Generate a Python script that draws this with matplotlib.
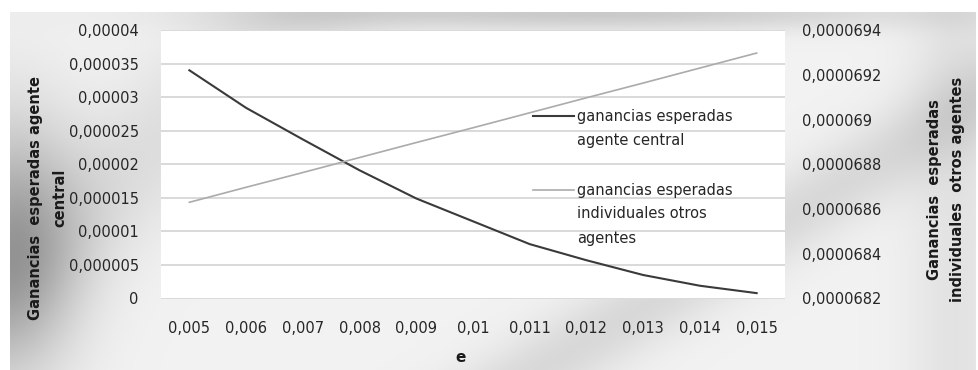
import numpy as np
import matplotlib
matplotlib.use("Agg")
import matplotlib.pyplot as plt
from matplotlib.lines import Line2D
from matplotlib.ticker import FixedLocator, FuncFormatter

plt.rcParams['font.family'] = ['DejaVu Sans']

# Data
e_values = [0.005, 0.006, 0.007, 0.008, 0.009, 0.010, 0.011, 0.012, 0.013, 0.014, 0.015]
e_labels = ["0,005", "0,006", "0,007", "0,008", "0,009", "0,01", "0,011", "0,012", "0,013", "0,014", "0,015"]
central_profit = [3.40e-5, 2.84e-5, 2.37e-5, 1.91e-5, 1.49e-5, 1.15e-5,
                  0.81e-5, 0.57e-5, 0.35e-5, 0.19e-5, 0.08e-5]
others_profit = [6.8630e-5, 6.8697e-5, 6.8763e-5, 6.8830e-5, 6.8897e-5, 6.8963e-5,
                 6.9030e-5, 6.9097e-5, 6.9163e-5, 6.9230e-5, 6.9297e-5]
left_ticks = [0, 0.000005, 0.00001, 0.000015, 0.00002, 0.000025, 0.00003, 0.000035, 0.00004]
right_ticks = [0.0000682, 0.0000684, 0.0000686, 0.0000688, 0.000069, 0.0000692, 0.0000694]

TXT = "#262626"
W, H = 979, 370
fig = plt.figure(figsize=(W / 100, H / 100), dpi=100)
fig.patch.set_facecolor("white")

# Silver gradient chart area
bg = fig.add_axes([10 / W, 0, 966 / W, 358 / H], zorder=0)
bg.set_axis_off()
ny, nx = 200, 500
yy, xx = np.mgrid[0:1:ny * 1j, 0:1:nx * 1j]
shade = 0.95 * np.ones_like(xx)
shade -= 0.30 * np.exp(-((xx - 0.0) / 0.07) ** 2) * np.exp(-((yy - 0.65) / 0.35) ** 2)
shade -= 0.16 * np.exp(-((yy - 0.0) / 0.05) ** 2) * np.exp(-((xx - 0.6) / 0.35) ** 2)
shade -= 0.10 * np.exp(-((xx + yy * 0.6 - 1.15) / 0.08) ** 2)
shade -= 0.08 * np.exp(-((xx - 0.30 + yy * 0.4) / 0.10) ** 2)
shade -= 0.06 * np.exp(-((xx - 0.98) / 0.05) ** 2)
shade = np.clip(shade, 0, 1)
bg.imshow(np.dstack([shade] * 3), extent=[0, 1, 0, 1], aspect="auto", origin="upper")
bg.set_xlim(0, 1)
bg.set_ylim(0, 1)

# Plot area
left, right = 161 / W, 785 / W
bottom, top = (H - 298.5) / H, (H - 30) / H
ax = fig.add_axes([left, bottom, right - left, top - bottom], zorder=2)
ax.set_facecolor("white")
x = np.arange(len(e_values))
ax.set_xlim(-0.5, len(e_values) - 0.5)
ax.set_ylim(left_ticks[0], left_ticks[-1])
ax.yaxis.set_major_locator(FixedLocator(left_ticks))
ax.yaxis.set_major_formatter(FuncFormatter(
    lambda v, p: "0" if v == 0 else f"{v:.6f}".rstrip("0").replace(".", ",")))
ax.set_xticks(x)
ax.set_xticklabels(e_labels)
for s in ax.spines.values():
    s.set_visible(False)
ax.grid(axis="y", color="#d9d9d9", linewidth=1.4)
ax.set_axisbelow(True)
ax.tick_params(axis="both", length=0, labelsize=10.5, labelcolor=TXT)
ax.tick_params(axis="y", pad=16)
ax.tick_params(axis="x", pad=16)

ax2 = ax.twinx()
ax2.set_ylim(right_ticks[0], right_ticks[-1])
ax2.yaxis.set_major_locator(FixedLocator(right_ticks))
ax2.yaxis.set_major_formatter(FuncFormatter(lambda v, p: f"{v:.7f}".rstrip("0").replace(".", ",")))
for s in ax2.spines.values():
    s.set_visible(False)
ax2.tick_params(axis="y", length=0, labelsize=10.5, labelcolor=TXT, pad=12)

ax.plot(x, central_profit, color="#3a3a3a", linewidth=1.5, zorder=3)
ax2.plot(x, others_profit, color="#ababab", linewidth=1.2, zorder=3)

# Axis titles
tkw = dict(rotation=90, ha="center", va="center", fontsize=10.5,
           fontweight="bold", color="#1a1a1a")
fig.text(36 / W, 1 - 198 / H, "Ganancias  esperadas agente", **tkw)
fig.text(60 / W, 1 - 198 / H, "central", **tkw)
fig.text(935 / W, 1 - 190 / H, "Ganancias  esperadas", **tkw)
fig.text(958 / W, 1 - 189 / H, "individuales  otros agentes", **tkw)
fig.text(461 / W, 1 - 357 / H, "e", ha="center", va="center",
         fontsize=11, fontweight="bold", color="#1a1a1a")

# Legend drawn with the handle beside the first text line
def legend_entry(y_px, color, lw, lines):
    fig.add_artist(Line2D([533 / W, 574 / W], [1 - y_px / H, 1 - y_px / H],
                          color=color, linewidth=lw, zorder=5))
    for i, t in enumerate(lines):
        fig.text(577 / W, 1 - (y_px + i * 24) / H, t, ha="left", va="center",
                 fontsize=10.5, color=TXT, zorder=5)

legend_entry(116, "#3a3a3a", 1.5, ["ganancias esperadas", "agente central"])
legend_entry(190, "#ababab", 1.2, ["ganancias esperadas", "individuales otros", "agentes"])

fig.savefig("out.png", dpi=100)
